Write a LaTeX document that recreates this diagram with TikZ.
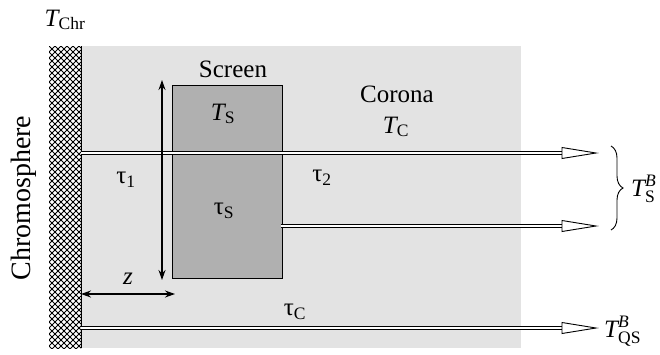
\documentclass[tikz,border=0pt]{standalone}
\usepackage{amsmath}
\usepackage{fontspec}
\setmainfont{Liberation Serif}
\usetikzlibrary{arrows.meta,decorations.pathreplacing}
\begin{document}
\begin{tikzpicture}[x=1pt,y=-1pt,
  lbl/.style={font=\fontsize{25}{30}\selectfont, inner sep=0pt},
  ray/.style={double=white, double distance=1.7pt, line width=1.1pt},
  openhead/.style={draw=black, fill=white, line width=0.9pt, line join=miter},
  dimarrow/.style={line width=1.2pt, {Stealth[length=10pt,width=7pt]}-{Stealth[length=10pt,width=7pt]}},
]
\useasboundingbox (0,0) rectangle (660,354);
% corona background
\fill[black!11] (81,46) rectangle (521,348);
% chromosphere hatch
\begin{scope}
  \clip (49,46) rectangle (81,348);
  \fill[white] (49,46) rectangle (81,348);
  \foreach \k in {-42,-36,...,342} {
    \draw[line width=0.85pt] (49,46+\k) -- ++(40,40);
    \draw[line width=0.85pt] (49,46+\k) -- ++(40,-40);
  }
\end{scope}
\draw[line width=0.8pt] (81,46) -- (81,348);
% screen
\node[draw=black, fill=black!31, line width=0.9pt, minimum width=110pt, minimum height=193pt, inner sep=0pt] (screen) at (227,181.5) {};
% ray coordinates
\coordinate (r1s) at (81,153);
\coordinate (r1e) at (562,153);
\coordinate (r2s) at (281,226);
\coordinate (r2e) at (562,226);
\coordinate (r3s) at (81,328);
\coordinate (r3e) at (562,328);
\draw[ray] (r1s) -- (r1e);
\draw[ray] (r2s) -- (r2e);
\draw[ray] (r3s) -- (r3e);
\foreach \e in {r1e,r2e,r3e} {
  \draw[openhead] (\e) -- ++(0,-5.5) -- ++(34,5.5) -- ++(-34,5.5) -- cycle;
}
% dimension arrows
\coordinate (vt) at (162,80);
\coordinate (vb) at (162,280);
\draw[dimarrow] (vt) -- (vb);
\coordinate (zl) at (81,294);
\coordinate (zr) at (175,294);
\draw[dimarrow] (zl) -- (zr);
% brace
\coordinate (bt) at (611,146);
\coordinate (bb) at (611,230);
\draw[line width=0.9pt, decorate, decoration={brace, amplitude=12pt}] (bt) -- (bb);
% labels
\node[lbl] (tchr) at (65,20) {$\textit{T}_{\text{Chr}}$};
\node[lbl, rotate=90, font=\fontsize{28}{32}\selectfont] (chromo) at (24,198) {Chromosphere};
\node[lbl] (scr) at (233,69) {Screen};
\node[lbl] (ts) at (223,114) {$\textit{T}_{\text{S}}$};
\node[lbl] (taus) at (224,211) {$\text{τ}_{\text{S}}$};
\node[lbl] (tau1) at (126,180) {$\text{τ}_{\text{1}}$};
\node[lbl] (tau2) at (322,178) {$\text{τ}_{\text{2}}$};
\node[lbl] (corona) at (397,94) {Corona};
\node[lbl] (tc) at (396,127) {$\textit{T}_{\text{C}}$};
\node[lbl] (tauc) at (295,312) {$\text{τ}_{\text{C}}$};
\node[lbl] (z) at (128,279) {\textit{z}};
\node[lbl, anchor=west] (tsb) at (631,189) {$\textit{T}^{\textit{B}}_{\text{S}}$};
\node[lbl, anchor=west] (tqsb) at (604,331) {$\textit{T}^{\textit{B}}_{\text{QS}}$};
\end{tikzpicture}
\end{document}
